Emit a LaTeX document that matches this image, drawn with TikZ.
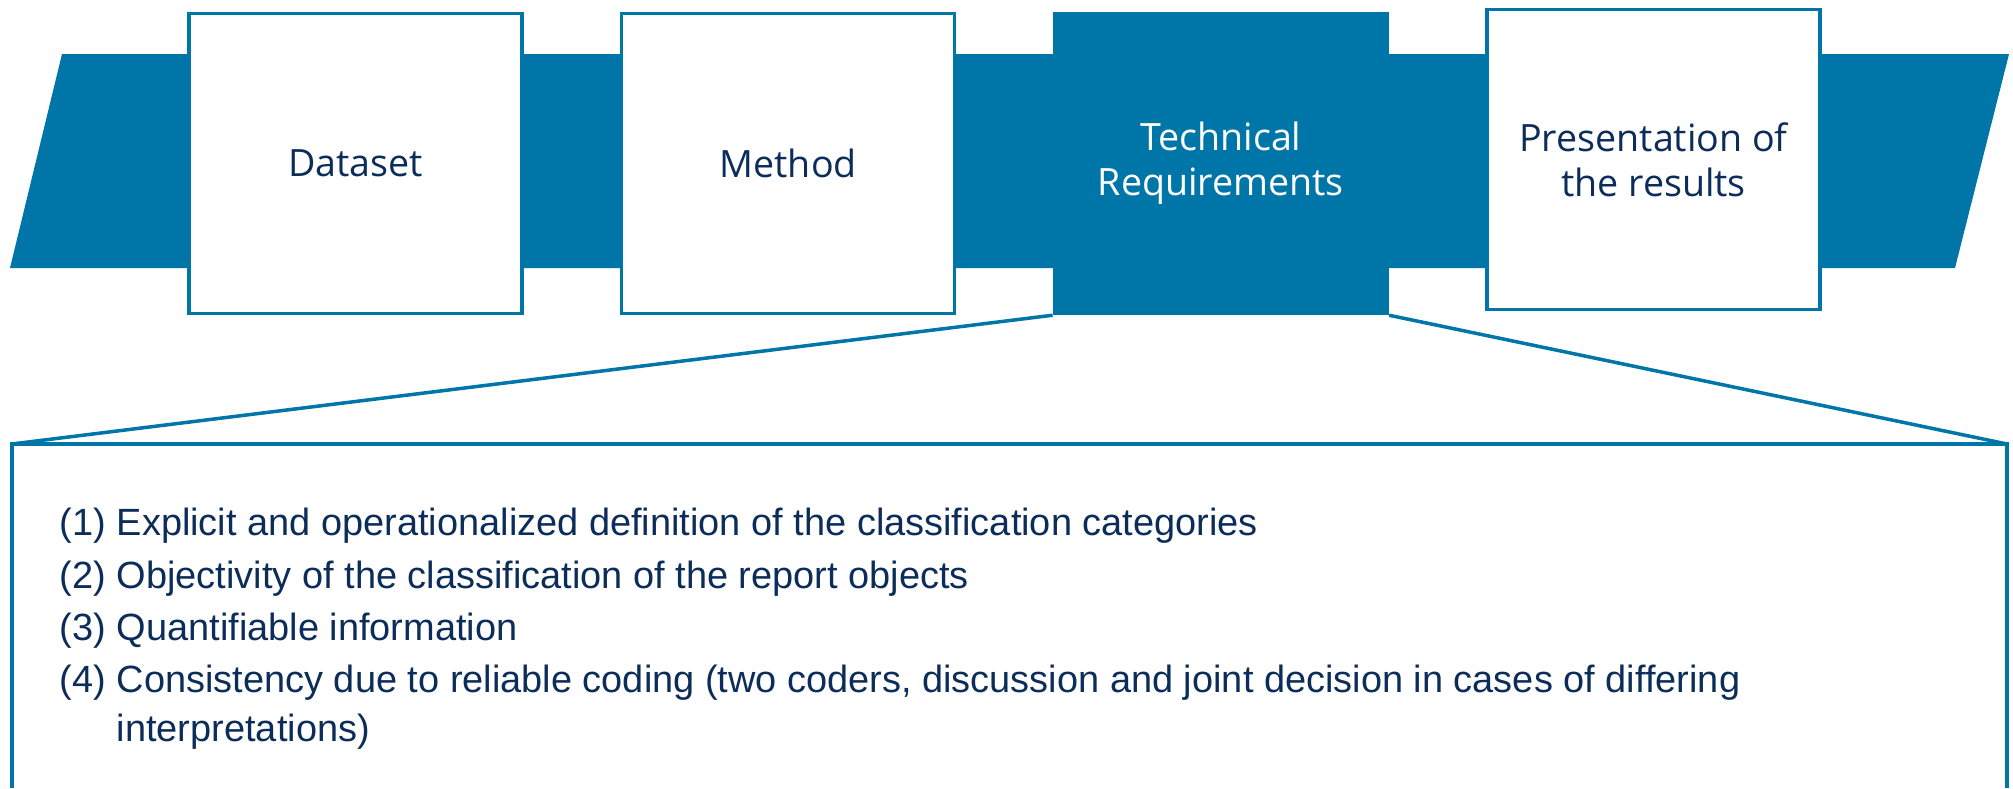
\documentclass[tikz,border=0pt]{standalone}
\usepackage{fontspec}
\setmainfont{Liberation Sans}
\newfontfamily\boxfont{Open Sans}
\usetikzlibrary{shapes,arrows,positioning}
\definecolor{bandblue}{RGB}{0,118,168}
\definecolor{textnavy}{RGB}{12,45,90}
\newcommand{\reqnum}[1]{\makebox[1.14cm][l]{#1}}

\begin{document}
\begin{tikzpicture}[
			x = 0.02cm,
			y = -0.02cm,
			node distance = 8.655cm,
			line width = 2pt]
			\tikzstyle{phase}=[
			draw = bandblue,
			fill = white,
			text = textnavy,
			align = center,
			font = \boxfont\fontsize{21.4}{25.8}\selectfont,
			minimum width = 6.66cm,
			minimum height = 6.0cm]
			\tikzstyle{current phase}=[
			phase,
			fill = bandblue,
			text = white]
			\tikzstyle{item}=[
			anchor = base west,
			inner sep = 0pt,
			text = textnavy,
			font = \fontsize{21.6}{26.7}\selectfont]

			\useasboundingbox (0,0) rectangle (2013,788);

			% band behind the phases
			\fill[bandblue] (62,54) -- (2009,54) -- (1955,268) -- (10,268) -- cycle;

			\node[phase] (a) at (355.5,163.5) {Dataset};
			\node[phase] (b) [right of=a] {Method};
			\node[current phase] (c) [right of=b] {Technical\\Requirements};
			\node[phase] (d) [right of=c, yshift=0.08cm] {Presentation of\\the results};

			% open box below
			\coordinate (tl) at (12,444);
			\coordinate (tr) at (2007,444);
			\coordinate (bl) at (12,788);
			\coordinate (br) at (2007,788);
			\draw[bandblue] (bl) -- (tl) -- (tr) -- (br);
			\draw[bandblue] (c.south west) -- (tl);
			\draw[bandblue] (c.south east) -- (tr);

			\node[item] (r1) at (58,535) {\reqnum{(1)}Explicit and operationalized definition of the classification categories};
			\node[item] (r2) at (58,588) {\reqnum{(2)}Objectivity of the classification of the report objects};
			\node[item] (r3) at (58,640) {\reqnum{(3)}Quantifiable information};
			\node[item] (r4) at (58,692) {\reqnum{(4)}Consistency due to reliable coding (two coders, discussion and joint decision in cases of differing};
			\node[item] (r5) at (115,741) {interpretations)};
		\end{tikzpicture}
\end{document}
